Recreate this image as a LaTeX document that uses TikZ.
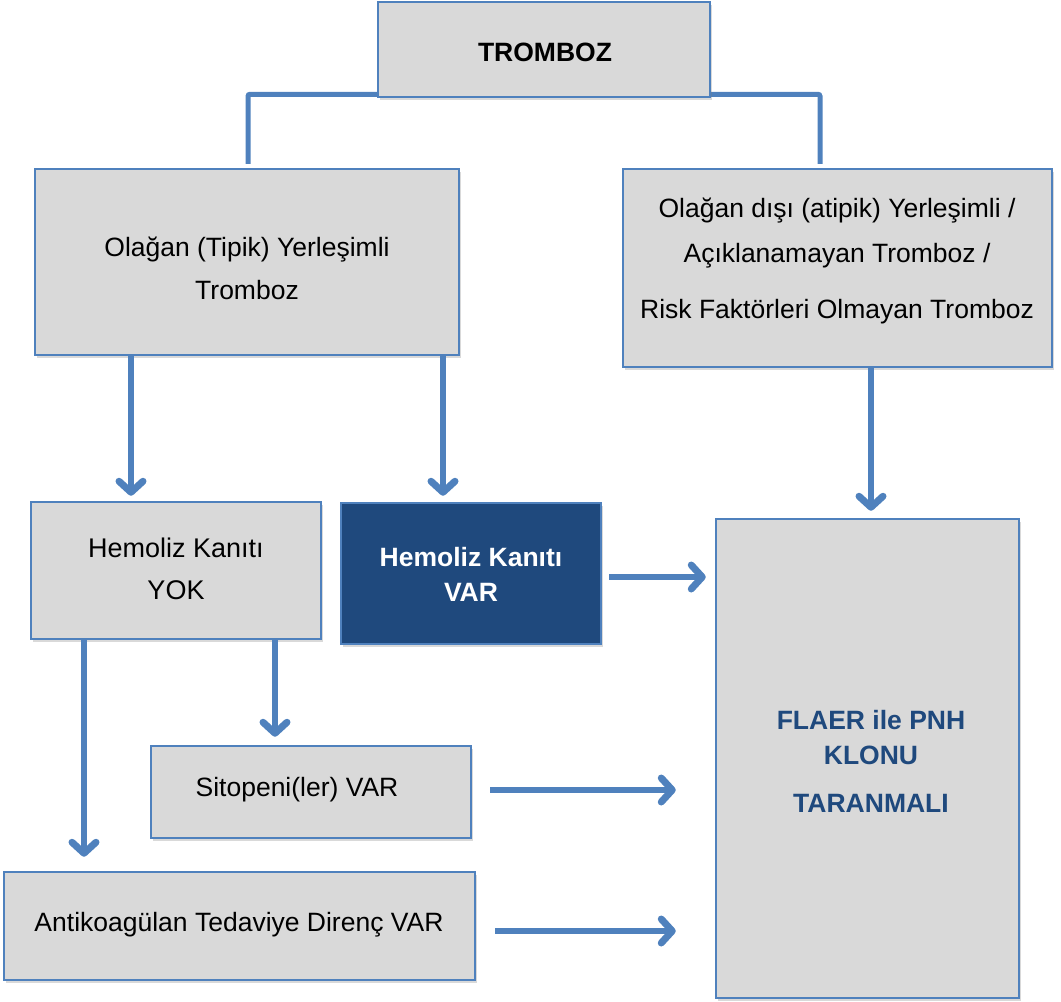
\documentclass[tikz,border=0pt]{standalone}
\usepackage{fontspec}
\setmainfont{Liberation Sans}
\usetikzlibrary{arrows.meta,shadows,backgrounds}
\definecolor{boxgray}{HTML}{D9D9D9}
\definecolor{lineblue}{HTML}{4F81BD}
\definecolor{darkblue}{HTML}{1F497D}
\begin{document}
\begin{tikzpicture}[x=1pt,y=-1pt,
  box/.style={draw=lineblue, line width=2.5pt, fill=boxgray, rectangle, inner sep=0pt,
    drop shadow={shadow xshift=2pt, shadow yshift=-3pt, opacity=0.3}},
  darkbox/.style={box, fill=darkblue},
  txt/.style={font=\fontsize{26.5}{32}\selectfont, align=center, inner sep=0pt},
  arr/.style={draw=lineblue, line width=6pt, -{Straight Barb[length=11pt,width=24pt,line width=7pt,round]}},
  conn/.style={draw=lineblue, line width=5pt, rounded corners=2pt}]
\useasboundingbox (0,0) rectangle (1061,1002);
% boxes
\node[box, minimum width=332pt, minimum height=95pt] (top) at (544,49.5) {};
\node[box, minimum width=424pt, minimum height=186pt] (olagan) at (247,262) {};
\node[box, minimum width=429pt, minimum height=198pt] (right) at (837.5,268) {};
\node[box, minimum width=290pt, minimum height=137pt] (yok) at (176,570.5) {};
\node[darkbox, minimum width=260pt, minimum height=141pt] (var) at (471,573.5) {};
\node[box, minimum width=303pt, minimum height=479pt] (flaer) at (867.5,758.5) {};
\node[box, minimum width=320pt, minimum height=92pt] (sito) at (311,792) {};
\node[box, minimum width=471pt, minimum height=108pt] (anti) at (239.5,926) {};
% texts
\node[txt, font=\fontsize{26.5}{32}\selectfont\bfseries] (toptxt) at (545,52) {TROMBOZ};
\node[txt, font=\fontsize{26.5}{43}\selectfont] (olagantxt) at (247,268.5) {Olağan (Tipik) Yerleşimli\\Tromboz};
\node[txt, font=\fontsize{26.5}{45}\selectfont] (righttxt) at (837,261) {Olağan dışı (atipik) Yerleşimli /\\Açıklanamayan Tromboz /\\[11pt]Risk Faktörleri Olmayan Tromboz};
\node[txt, font=\fontsize{27}{42}\selectfont] (yoktxt) at (176,569) {Hemoliz Kanıtı\\YOK};
\node[txt, font=\fontsize{26.5}{35}\selectfont\bfseries, text=white] (vartxt) at (471,574.5) {Hemoliz Kanıtı\\VAR};
\node[txt, font=\fontsize{26.5}{35}\selectfont\bfseries, text=darkblue] (flaertxt) at (871,761.5) {FLAER ile PNH\\KLONU\\[13pt]TARANMALI};
\node[txt] (sitotxt) at (297,790) {Sitopeni(ler) VAR};
\node[txt] (antitxt) at (239,925) {Antikoagülan Tedaviye Direnç VAR};
% top connector behind the top box
\begin{pgfonlayer}{background}
\draw[conn] ([xshift=1pt,yshift=4pt]olagan.north) |- ([yshift=4pt]top.south) -| ([xshift=-17.5pt,yshift=4pt]right.north);
\end{pgfonlayer}
% arrows
\draw[arr, shorten >=5pt] ([xshift=-116pt]olagan.south) -- ([xshift=-45pt]yok.north);
\draw[arr, shorten >=6pt] ([xshift=196pt]olagan.south) -- ([xshift=-28pt]var.north);
\draw[arr, shorten >=7pt] ([xshift=33.5pt]right.south) -- ([xshift=3.5pt]flaer.north);
\draw[arr, shorten <=7pt, shorten >=9pt] ([yshift=-3.5pt]var.east) -- ([yshift=-3.5pt]var.east -| flaer.west);
\draw[arr, shorten >=8pt] ([xshift=99pt]yok.south) -- ([xshift=99pt]yok.south |- sito.north);
\draw[arr, shorten >=14pt] ([xshift=-92pt]yok.south) -- ([xshift=-92pt]yok.south |- anti.north);
\draw[arr, shorten <=18pt, shorten >=39pt] ([yshift=2pt]sito.east) -- ([yshift=2pt]sito.east -| flaer.west);
\draw[arr, shorten <=19pt, shorten >=39pt] ([yshift=-5pt]anti.east) -- ([yshift=-5pt]anti.east -| flaer.west);
\end{tikzpicture}
\end{document}
